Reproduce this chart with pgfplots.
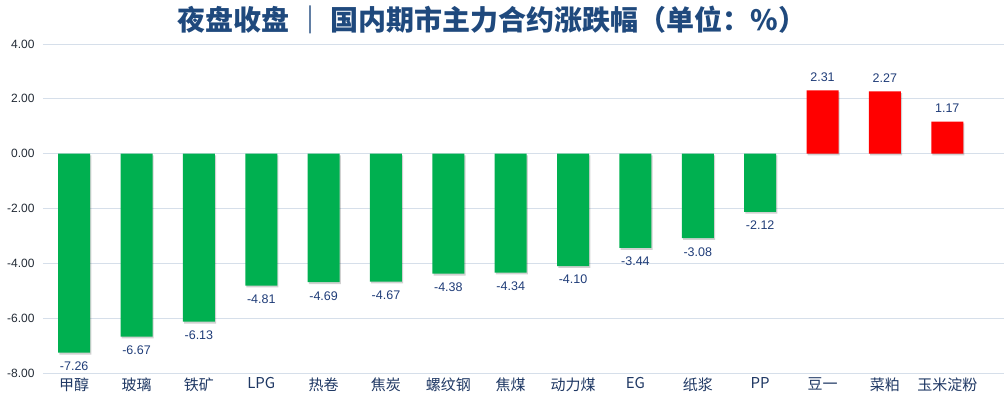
\documentclass[border=0pt]{standalone}
\usepackage{pgfplots}
\pgfplotsset{compat=1.18}
\usepackage{fontspec}
\setmainfont{Noto Sans CJK SC}
\newfontfamily\numfont{Liberation Sans}
\definecolor{barg}{HTML}{00B050}
\definecolor{barr}{HTML}{FF0000}
\definecolor{navy}{HTML}{1F3864}
\definecolor{valc}{HTML}{1F3C78}
\definecolor{titleblue}{HTML}{1F497D}
\definecolor{gridc}{HTML}{D6DFEA}
\definecolor{tickc}{HTML}{222A35}
\begin{document}
\begin{tikzpicture}
\begin{axis}[
  scale only axis,
  width=961pt, height=329pt,
  xmin=-0.5, xmax=14.91, ymin=-8, ymax=4,
  ytick={-8,-6,-4,-2,0,2,4},
  xtick={0,...,14},
  xticklabels={甲醇,玻璃,铁矿,LPG,热卷,焦炭,螺纹钢,焦煤,动力煤,EG,纸浆,PP,豆一,菜粕,玉米淀粉},
  ymajorgrids, grid style={gridc, line width=0.9pt},
  axis line style={draw=none},
  major tick length=0pt,
  xticklabel style={font=\fontsize{15}{18}\selectfont, text=navy, yshift=-1pt},
  yticklabel style={font=\numfont\fontsize{12}{14}\selectfont, text=tickc, xshift=-5pt},
  /pgf/number format/.cd, fixed, fixed zerofill, precision=2, assume math mode=true,
  /pgfplots/.cd,
  ybar, bar width=32pt, bar shift=0pt,
  nodes near coords,
  nodes near coords style={font=\numfont\fontsize{12.5}{14}\selectfont, text=valc, inner ysep=9pt,
    /pgf/number format/.cd, fixed, fixed zerofill, precision=2, assume math mode=true},
  clip=false,
]
\addplot[fill=barg, draw=none, preaction={fill=black, opacity=0.18, transform canvas={xshift=1.2pt,yshift=-1.8pt}}] coordinates {
 (0,-7.26) (1,-6.67) (2,-6.13) (3,-4.81) (4,-4.69) (5,-4.67) (6,-4.38) (7,-4.34) (8,-4.10) (9,-3.44) (10,-3.08) (11,-2.12)};
\addplot[fill=barr, draw=none, preaction={fill=black, opacity=0.18, transform canvas={xshift=1.2pt,yshift=-1.8pt}}] coordinates {
 (12,2.31) (13,2.27) (14,1.17)};
\end{axis}
\node[font=\fontsize{28}{32}\selectfont\bfseries, text=titleblue] at ([shift={(449pt,353pt)}]current axis.south west) {夜盘收盘 ｜ 国内期市主力合约涨跌幅（单位：\%）};
\pgfresetboundingbox
\path[use as bounding box] ([shift={(-43pt,-23pt)}]current axis.south west) rectangle ([shift={(961pt,373pt)}]current axis.south west);
\end{tikzpicture}
\end{document}
